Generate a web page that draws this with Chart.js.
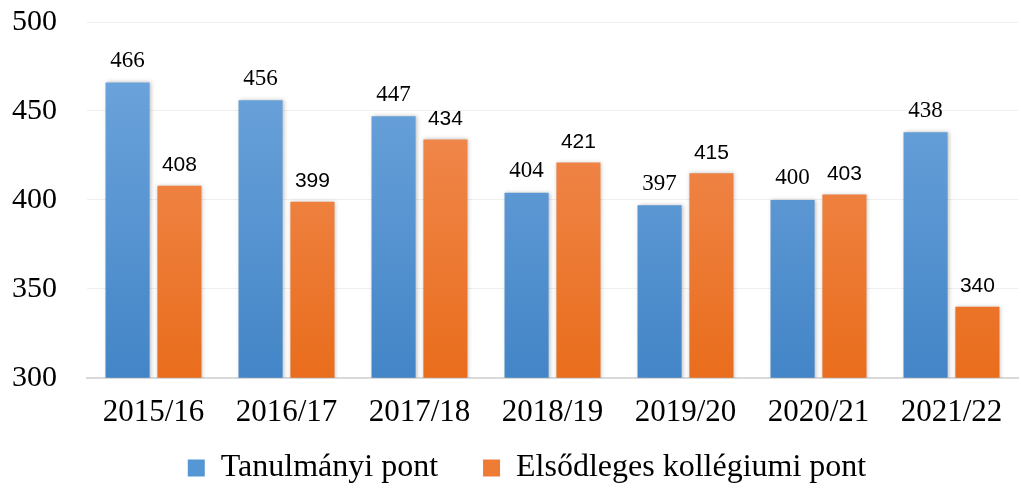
<!DOCTYPE html>
<html>
<head>
<meta charset="utf-8">
<script src="https://cdn.jsdelivr.net/npm/chart.js@4.4.1/dist/chart.umd.min.js"></script>
<style>
  html, body { margin:0; padding:0; background:#fff; }
  #wrap { width:1021px; height:489px; }
</style>
</head>
<body>
<div id="wrap"><canvas id="c"></canvas></div>
<script>
/* ── data ── */
const YEARS = ['2015/16','2016/17','2017/18','2018/19','2019/20','2020/21','2021/22'];
const TANULMANYI = [466, 456, 447, 404, 397, 400, 438];
const KOLLEGIUMI = [408, 399, 434, 421, 415, 403, 340];
const Y_TICKS = [300, 350, 400, 450, 500];

const SERIF = '"Liberation Serif", "Times New Roman", serif';
const SANS = '"Liberation Sans", Arial, sans-serif';

function vGrad(ctx, top, bottom) {
  const area = ctx.chart.chartArea;
  if (!area) return bottom;
  const g = ctx.chart.ctx.createLinearGradient(0, area.top, 0, area.bottom);
  g.addColorStop(0, top);
  g.addColorStop(1, bottom);
  return g;
}

/* ── value labels above the bars ── */
const barLabels = {
  id: 'barLabels',
  afterDatasetsDraw(chart) {
    const c = chart.ctx;
    chart.data.datasets.forEach((ds, i) => {
      const meta = chart.getDatasetMeta(i);
      c.save();
      c.fillStyle = '#000';
      c.textAlign = 'center';
      c.textBaseline = 'bottom';
      c.font = i === 0 ? '23px ' + SERIF : '21px ' + SANS;
      meta.data.forEach((bar, j) => {
        c.fillText(ds.data[j], bar.x, bar.y - 10);
      });
      c.restore();
    });
  }
};

/* ── soft shadow on bars ── */
const barShadow = {
  id: 'barShadow',
  beforeDatasetsDraw(chart) {
    const c = chart.ctx;
    c.save();
    c.shadowColor = 'rgba(0,0,0,0.25)';
    c.shadowBlur = 4;
    c.shadowOffsetX = 1;
    c.shadowOffsetY = 0;
  },
  afterDatasetsDraw(chart) {
    chart.ctx.restore();
  }
};

/* ── legend sits a little right of centre in the original ── */
const legendShift = {
  id: 'legendShift',
  afterLayout(chart) {
    chart.legend.left += 12;
    chart.legend.right += 12;
  }
};

new Chart(document.getElementById('c'), {
  type: 'bar',
  data: {
    labels: YEARS,
    datasets: [
      { label:'Tanulmányi pont', data:TANULMANYI,
        backgroundColor: ctx => vGrad(ctx, '#72a8de', '#4385c7'),
        categoryPercentage:0.78, barPercentage:0.85 },
      { label:'Elsődleges kollégiumi pont', data:KOLLEGIUMI,
        backgroundColor: ctx => vGrad(ctx, '#f39260', '#e96d1c'),
        categoryPercentage:0.78, barPercentage:0.85 }
    ]
  },
  options: {
    responsive:true, maintainAspectRatio:false, animation:false,
    layout:{ padding:{ top:22, right:3, left:12, bottom:-5 } },
    plugins:{
      legend:{
        position:'bottom',
        labels:{
          color:'#000', font:{ family:SERIF, size:32 },
          boxWidth:17, boxHeight:17, padding:13,
          generateLabels(chart) {
            const cols = ['#5596d4', '#ee7c34'];
            // trailing no-break spaces widen the gap between the two entries
            return chart.data.datasets.map((ds, i) => ({
              text: i === 0 ? ds.label + '\u00A0\u00A0\u00A0\u00A0' : ds.label,
              fillStyle: cols[i], strokeStyle: cols[i],
              lineWidth: 0, datasetIndex: i, hidden: false
            }));
          }
        }
      },
      tooltip:{ enabled:false }
    },
    scales:{
      x:{
        grid:{ display:false },
        border:{ display:true, color:'#d9d9d9', width:2 },
        ticks:{ color:'#000', font:{ family:SERIF, size:31 }, padding:8 }
      },
      y:{
        min:300, max:500,
        afterBuildTicks(axis) { axis.ticks = Y_TICKS.map(v => ({ value:v })); },
        afterFit(axis) { axis.width = 75; },
        grid:{ color:'#efefef', drawTicks:false },
        border:{ display:false },
        ticks:{ color:'#000', font:{ family:SERIF, size:30 }, padding:0, crossAlign:'far' }
      }
    }
  },
  plugins:[barShadow, barLabels, legendShift]
});
</script>
</body>
</html>
